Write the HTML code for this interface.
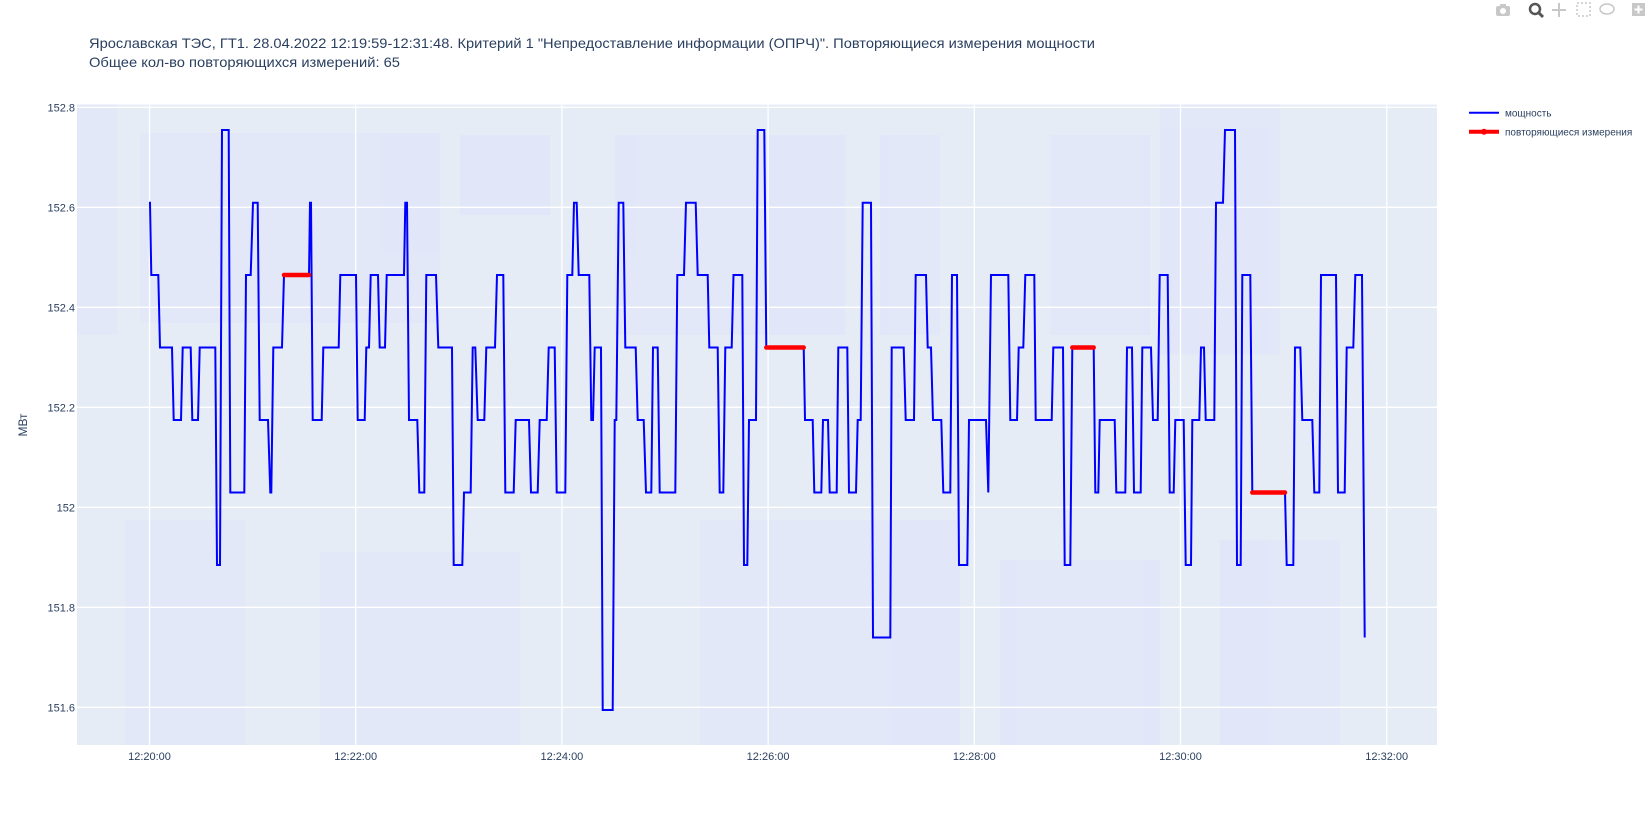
<!DOCTYPE html>
<html><head><meta charset="utf-8"><style>
html,body{margin:0;padding:0;background:#fff;}
svg{display:block;font-family:"Liberation Sans","DejaVu Sans",sans-serif;}
</style></head><body>
<svg width="1648" height="815" viewBox="0 0 1648 815" xmlns="http://www.w3.org/2000/svg">
<rect x="0" y="0" width="1648" height="815" fill="#fff"/>
<!-- plot background -->
<rect x="77" y="104.6" width="1360" height="640.4" fill="#e5ecf6"/>
<g fill="#e1e7f9" opacity="0.8">
<rect x="77" y="104.6" width="40" height="230"/>
<rect x="140" y="133" width="300" height="190"/>
<rect x="125" y="520" width="120" height="225"/>
<rect x="320" y="552" width="200" height="193"/>
<rect x="460" y="135" width="90" height="80"/>
<rect x="615" y="135" width="230" height="200"/>
<rect x="700" y="520" width="260" height="225"/>
<rect x="880" y="135" width="60" height="200"/>
<rect x="1050" y="135" width="100" height="200"/>
<rect x="1160" y="104.6" width="120" height="250"/>
<rect x="1220" y="540" width="120" height="205"/>
<rect x="1000" y="560" width="160" height="185"/>
</g>
<!-- grid -->
<g stroke="#fff" stroke-width="1.3">
<line x1="77" x2="1437" y1="107.3" y2="107.3"/>
<line x1="77" x2="1437" y1="207.3" y2="207.3"/>
<line x1="77" x2="1437" y1="307.3" y2="307.3"/>
<line x1="77" x2="1437" y1="407.3" y2="407.3"/>
<line x1="77" x2="1437" y1="507.3" y2="507.3"/>
<line x1="77" x2="1437" y1="607.3" y2="607.3"/>
<line x1="77" x2="1437" y1="707.3" y2="707.3"/>
<line y1="104.6" y2="745" x1="149.5" x2="149.5"/>
<line y1="104.6" y2="745" x1="355.7" x2="355.7"/>
<line y1="104.6" y2="745" x1="561.9" x2="561.9"/>
<line y1="104.6" y2="745" x1="768.1" x2="768.1"/>
<line y1="104.6" y2="745" x1="974.3" x2="974.3"/>
<line y1="104.6" y2="745" x1="1180.5" x2="1180.5"/>
<line y1="104.6" y2="745" x1="1386.7" x2="1386.7"/>
</g>
<!-- data -->
<polyline fill="none" stroke="#0000ff" stroke-width="2" stroke-linejoin="miter" points="
149,202.7 150,202.7 151.3,275 158.3,275 160,347.5 172,347.5 173.7,420 181,420 182.7,347.5 190.7,347.5 192.3,420 198,420 199.7,347.5 215.3,347.5 217,565 220,565 222,130 228.7,130 230.3,492.5 244.3,492.5 246,275 250.7,275 253,202.7 257.7,202.7 259.7,420 268,420 270.3,492.5 271.3,492.5 273.3,347.5 282,347.5 284,275 309,275 310,202.7 311,202.7 312.7,420 321.7,420 323.3,347.5 338.7,347.5 340.3,275 356,275 357.7,420 364.7,420 366.3,347.5 369,347.5 370.7,275 378,275 379.7,347.5 385,347.5 386.7,275 404,275 405.3,202.7 407,202.7 409,420 417.3,420 419.3,492.5 424.3,492.5 426.3,275 436,275 438.3,347.5
452,347.5 453.7,565 462.3,565 464,492.5 470.7,492.5 472.7,347.5 475.3,347.5 477.7,420 484.3,420 486.3,347.5 495,347.5 497,275 503.3,275 505.3,492.5 513.7,492.5 515.7,420 529,420 531,492.5 537.7,492.5 539.7,420 546.7,420 548.7,347.5 554.7,347.5 556.7,492.5 565.3,492.5 567.3,275 572.3,275 574,202.7 576.7,202.7 578.7,275 589.3,275 591.3,420 593,420 594.7,347.5 601,347.5 602.7,710 612.7,710 614.7,420 616.3,420 618.7,202.7 623.3,202.7 625.3,347.5 635.7,347.5 637.7,420 643.7,420 646,492.5 651.3,492.5 653,347.5 657.7,347.5 659.7,492.5 675.3,492.5 677.3,275 684,275 686,202.7 695.7,202.7 697.7,275 707.7,275 709.3,347.5 717.7,347.5 719.7,492.5 723.3,492.5 725.3,347.5 731.7,347.5 733.5,275
742.3,275 744,565 747.3,565 749,420 756,420 757.7,130 764.3,130 766.3,347.5 803.7,347.5 805,420 812.7,420 814.3,492.5 821.3,492.5 823,420 828,420 829.7,492.5 836.7,492.5 838.3,347.5 847.3,347.5 849,492.5 856,492.5 857.7,420 860.7,420 862.7,202.7 871,202.7 873,637.5 890.3,637.5 891.7,347.5 903.7,347.5 905.7,420 914,420 915.7,275 926,275 927.7,347.5 931,347.5 933,420 941.3,420 943.3,492.5 950.3,492.5 952,275 957,275 959,565 967.3,565 969,420 986,420 988.3,492.5 991,275 1008.3,275 1010.3,420 1017,420 1018.7,347.5 1023.3,347.5 1025.3,275 1034.3,275 1035.7,420
1051.7,420 1053.3,347.5 1063,347.5 1064.7,565 1070.3,565 1072.3,347.5 1093.7,347.5 1095.3,492.5 1098.3,492.5 1099.7,420 1114.7,420 1116.3,492.5 1125.3,492.5 1127,347.5 1132,347.5 1134,492.5 1140.7,492.5 1142.3,347.5 1151,347.5 1153,420 1157.7,420 1159.7,275 1167.7,275 1169.7,492.5 1173.7,492.5 1175.3,420 1183.7,420 1185.7,565 1191,565 1192.3,420 1199.3,420 1201,347.5 1204,347.5 1205.7,420 1214.3,420 1216,202.7 1223,202.7 1225,130 1235,130 1237,565 1240.7,565 1242.3,275 1250.3,275 1252.3,492.5 1285,492.5 1286.7,565 1293.3,565 1295,347.5 1300.3,347.5 1302.3,420 1312.3,420 1314.3,492.5 1319.3,492.5 1321,275 1336,275 1338,492.5 1344.7,492.5 1346.7,347.5 1353.3,347.5 1355.3,275 1362,275 1364.7,637.5"/>
<g stroke="#ff0000" stroke-width="4.5" stroke-linecap="round">
<line x1="284" x2="309" y1="275" y2="275"/>
<line x1="766.3" x2="803.7" y1="347.5" y2="347.5"/>
<line x1="1072.3" x2="1093.7" y1="347.5" y2="347.5"/>
<line x1="1252.3" x2="1285" y1="492.5" y2="492.5"/>
</g>
<!-- y tick labels -->
<g font-size="11" fill="#2a3f5f" text-anchor="end">
<text x="75" y="111.3">152.8</text>
<text x="75" y="211.3">152.6</text>
<text x="75" y="311.3">152.4</text>
<text x="75" y="411.3">152.2</text>
<text x="75" y="511.3">152</text>
<text x="75" y="611.3">151.8</text>
<text x="75" y="711.3">151.6</text>
</g>
<text transform="translate(27,425) rotate(-90)" font-size="12" fill="#2a3f5f" text-anchor="middle">МВт</text>
<!-- x tick labels -->
<g font-size="11" fill="#2a3f5f" text-anchor="middle">
<text x="149.5" y="760">12:20:00</text>
<text x="355.7" y="760">12:22:00</text>
<text x="561.9" y="760">12:24:00</text>
<text x="768.1" y="760">12:26:00</text>
<text x="974.3" y="760">12:28:00</text>
<text x="1180.5" y="760">12:30:00</text>
<text x="1386.7" y="760">12:32:00</text>
</g>
<!-- title -->
<g font-size="14" fill="#2a3f5f">
<text x="89" y="48" textLength="1006" lengthAdjust="spacingAndGlyphs">Ярославская ТЭС, ГТ1. 28.04.2022 12:19:59-12:31:48. Критерий 1 "Непредоставление информации (ОПРЧ)". Повторяющиеся измерения мощности</text>
<text x="89" y="67" textLength="311" lengthAdjust="spacingAndGlyphs">Общее кол-во повторяющихся измерений: 65</text>
</g>
<!-- legend -->
<line x1="1469" x2="1499" y1="112.7" y2="112.7" stroke="#0000ff" stroke-width="2"/>
<text x="1505" y="116.5" font-size="10" fill="#2a3f5f">мощность</text>
<line x1="1469" x2="1499" y1="131.7" y2="131.7" stroke="#ff0000" stroke-width="4"/>
<circle cx="1484" cy="131.7" r="3" fill="#ff0000"/>
<text x="1505" y="135.5" font-size="10" fill="#2a3f5f">повторяющиеся измерения</text>
<!-- modebar -->
<g fill="#c8c8c8">
<rect x="1496" y="6" width="14" height="10" rx="2"/>
<circle cx="1503" cy="11" r="3" fill="#fff"/>
<rect x="1500" y="4" width="6" height="3"/>
<circle cx="1535" cy="9" r="5" fill="none" stroke="#555" stroke-width="2.5"/>
<line x1="1539" y1="13" x2="1543" y2="17" stroke="#555" stroke-width="3"/>
<path d="M1559 3 v14 M1552 10 h14" stroke="#c8c8c8" stroke-width="2"/>
<rect x="1577" y="3" width="13" height="13" fill="none" stroke="#c8c8c8" stroke-width="1.5" stroke-dasharray="2,2"/>
<ellipse cx="1607" cy="9" rx="7" ry="5" fill="none" stroke="#c8c8c8" stroke-width="1.5"/>
<rect x="1632" y="3" width="13" height="13"/>
<path d="M1638.5 5.5 v8 M1634.5 9.5 h8" stroke="#fff" stroke-width="2"/>
</g>
</svg>
</body></html>
